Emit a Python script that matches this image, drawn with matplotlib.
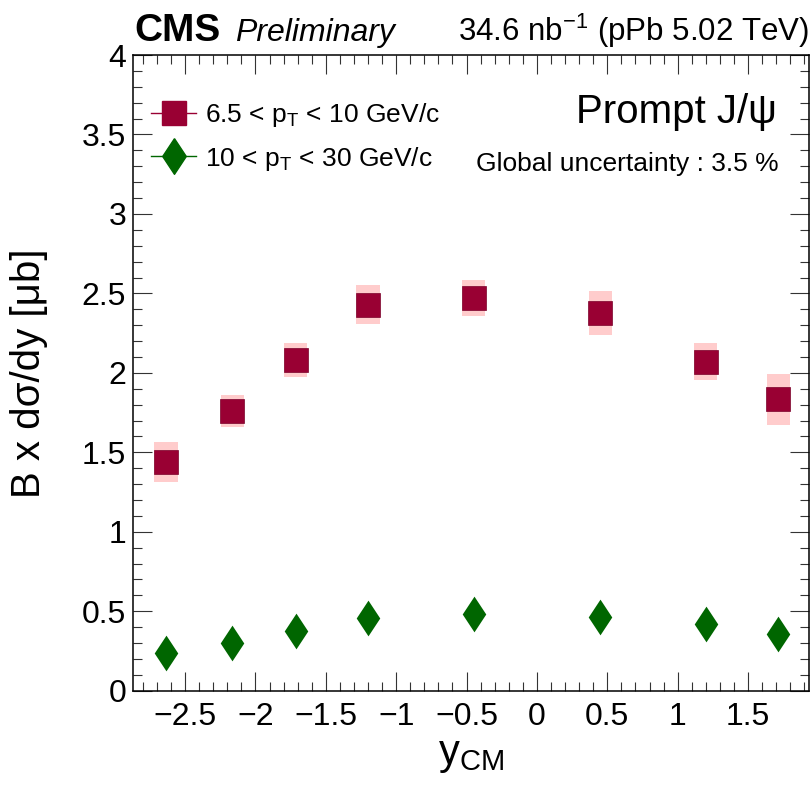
import matplotlib
matplotlib.use("Agg")
import matplotlib.pyplot as plt
from matplotlib.patches import Rectangle
from matplotlib.lines import Line2D
from matplotlib.ticker import MultipleLocator, FuncFormatter

plt.rcParams['font.family'] = ['Liberation Sans', 'DejaVu Sans']
plt.rcParams['mathtext.fontset'] = 'custom'
plt.rcParams['mathtext.rm'] = 'Liberation Sans'
plt.rcParams['mathtext.it'] = 'Liberation Sans:italic'
plt.rcParams['mathtext.bf'] = 'Liberation Sans:bold'

# datos (centros de bin en y_CM)
y_cm = [-2.635, -2.165, -1.715, -1.2, -0.45, 0.45, 1.2, 1.715]
xs_low = [1.44, 1.76, 2.08, 2.43, 2.47, 2.375, 2.07, 1.835]      # 6.5 < pT < 10
syst_low = [0.125, 0.099, 0.109, 0.125, 0.112, 0.138, 0.116, 0.161]
xs_high = [0.238, 0.303, 0.374, 0.456, 0.481, 0.463, 0.420, 0.357]  # 10 < pT < 30

label_low = r"6.5 < $\mathrm{p}_{\mathrm{T}}$ < 10 GeV/c"
label_high = r"10 < $\mathrm{p}_{\mathrm{T}}$ < 30 GeV/c"

c_low = '#990033'
c_box = '#ffcccc'
c_high = '#006600'
diamond = [(0, 1), (0.66, 0), (0, -1), (-0.66, 0), (0, 1)]


def fmt(v, pos):
    return f"{v:g}".replace('-', '\u2212')


fig = plt.figure(figsize=(8.11, 7.86), dpi=100)
ax = fig.add_axes([0.164, 0.1212, 0.833, 0.8088])

# cajas de incertidumbre sistematica
half_w = 0.0825
for x, y, s in zip(y_cm, xs_low, syst_low):
    ax.add_patch(Rectangle((x - half_w, y - s), 2 * half_w, 2 * s,
                           facecolor=c_box, edgecolor='none', zorder=1))

ax.plot(y_cm, xs_low, linestyle='none', marker='s', markersize=16.8,
        color=c_low, markeredgecolor='#7a0029', markeredgewidth=0.5, zorder=3)
ax.plot(y_cm, xs_high, linestyle='none', marker=diamond, markersize=25.7,
        color=c_high, markeredgewidth=0, zorder=3)

ax.set_xlim(-2.87, 1.93)
ax.set_ylim(0, 4)
ax.xaxis.set_major_locator(MultipleLocator(0.5))
ax.xaxis.set_minor_locator(MultipleLocator(0.1))
ax.yaxis.set_major_locator(MultipleLocator(0.5))
ax.yaxis.set_minor_locator(MultipleLocator(0.1))
ax.yaxis.set_major_formatter(FuncFormatter(fmt))
ax.xaxis.set_major_formatter(FuncFormatter(fmt))
ax.tick_params(which='both', direction='in', top=True, right=True,
               labelsize=23, width=0.8, color='#333333')
ax.tick_params(which='major', length=13.7)
ax.tick_params(which='minor', length=6.8)
ax.tick_params(axis='x', pad=8)
ax.tick_params(axis='y', pad=5)
for sp in ax.spines.values():
    sp.set_linewidth(1.1)

ax.set_xlabel(r"y$_{\mathrm{CM}}$", fontsize=30, labelpad=2)
ax.set_ylabel("B x dσ/dy [μb]", fontsize=29, labelpad=24)

handles = [
    Line2D([], [], color=c_low, marker='s', markersize=16.8, linewidth=1),
    Line2D([], [], color=c_high, marker=diamond, markersize=25.7, linewidth=1),
]
ax.legend(handles, [label_low, label_high], loc='upper left',
          bbox_to_anchor=(0.027, 0.928), frameon=False, fontsize=19,
          handlelength=1.7, handletextpad=0.35, labelspacing=0.6,
          borderpad=0, borderaxespad=0)

ax.text(0.953, 0.893, "Prompt J/ψ", transform=ax.transAxes, ha='right',
        va='baseline', fontsize=29)
ax.text(0.955, 0.817, "Global uncertainty : 3.5 %", transform=ax.transAxes,
        ha='right', va='baseline', fontsize=19)

fig.text(0.166, 0.948, "CMS", fontsize=28, fontweight='bold', va='baseline')
fig.text(0.29, 0.948, "Preliminary", fontsize=23, style='italic', va='baseline')
fig.text(0.997, 0.948, r"34.6 nb$^{\mathrm{-1}}$ (pPb 5.02 TeV)", fontsize=22.5,
         ha='right', va='baseline')

fig.savefig("out.png", dpi=100)
